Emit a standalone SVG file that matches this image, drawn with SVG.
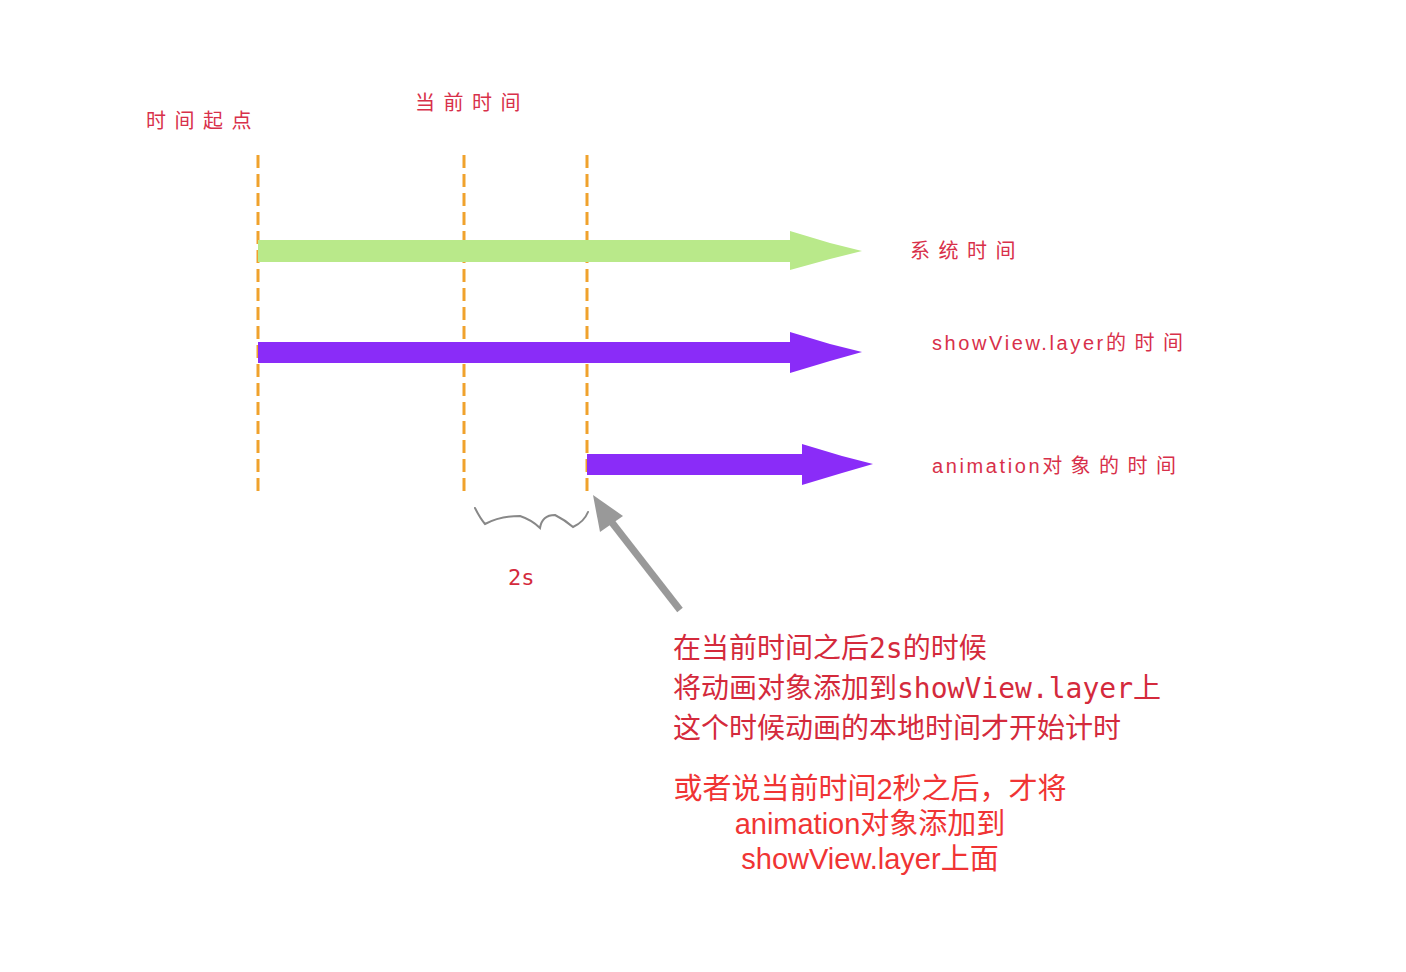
<svg xmlns="http://www.w3.org/2000/svg" width="1406" height="972" viewBox="0 0 1406 972">
<style>
.hand{font-family:"Noto Sans CJK SC","Liberation Sans",sans-serif;font-size:20px;fill:#d8304a;}
.lat{font-family:"Liberation Sans","Noto Sans CJK SC",sans-serif;letter-spacing:2.6px;}
.cj{letter-spacing:8.5px;}
.dash{stroke:#f0a22c;stroke-width:3;stroke-dasharray:13 6;fill:none;}
.note1{font-family:"DejaVu Sans Mono","Noto Sans CJK SC",monospace;font-size:28px;fill:#d42a3c;}
.note2{font-family:"Liberation Sans","Noto Sans CJK SC",sans-serif;font-size:29px;fill:#f03434;text-anchor:middle;}
</style>
<rect width="1406" height="972" fill="#ffffff"/>
<g id="guides">
<line class="dash" x1="258" y1="155" x2="258" y2="492"/>
<line class="dash" x1="464" y1="155" x2="464" y2="492"/>
<line class="dash" x1="587" y1="155" x2="587" y2="492"/>
</g>
<g id="system-time">
<polygon fill="#b9e98a" points="258,240 790,240 790,231 830,243 862,251 830,259 790,270 790,262 258,262"/>
</g>
<g id="layer-time">
<polygon fill="#8a2cf8" points="258,342 790,342 790,332 830,344 862,352 830,361 790,373 790,363 258,363"/>
</g>
<g id="animation-time">
<polygon fill="#8a2cf8" points="587,454 802,454 802,444 842,456 873,464 842,473 802,485 802,475 587,475"/>
</g>
<g id="labels">
<text class="hand cj" x="146" y="128">时间起点</text>
<text class="hand cj" x="415" y="110">当前时间</text>
<text class="hand cj" x="910" y="258">系统时间</text>
<text class="hand" x="932" y="350"><tspan class="lat">showView.layer</tspan><tspan class="cj">的时间</tspan></text>
<text class="hand" x="932" y="473"><tspan class="lat">animation</tspan><tspan class="cj">对象的时间</tspan></text>
<text x="508" y="585" style="font-family:'DejaVu Sans Mono',monospace;font-size:22px;fill:#d42a3c;">2s</text>
</g>
<g id="connectors">
<path d="M475,508 Q480,518 485,524 Q500,516 520,516 Q532,520 540,528 Q542,515 555,515 Q565,520 573,527 Q584,522 588,512" fill="none" stroke="#888888" stroke-width="2" stroke-linecap="round"/>
<line x1="680" y1="610" x2="610" y2="520" stroke="#999999" stroke-width="7"/>
<polygon fill="#999999" points="593,495 623,516 600,532"/>
</g>
<g id="notes">
<text class="note1" x="673" y="658">在当前时间之后2s的时候</text>
<text class="note1" x="673" y="698">将动画对象添加到showView.layer上</text>
<text class="note1" x="673" y="738">这个时候动画的本地时间才开始计时</text>
<text class="note2" x="870" y="799">或者说当前时间2秒之后，才将</text>
<text class="note2" x="870" y="834">animation对象添加到</text>
<text class="note2" x="870" y="869">showView.layer上面</text>
</g>
</svg>
